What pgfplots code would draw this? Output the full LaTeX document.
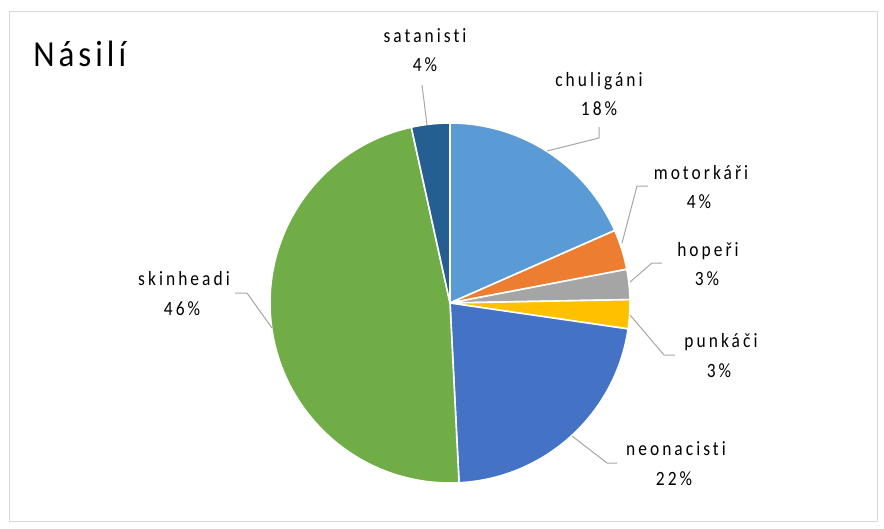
\documentclass[border=0pt]{standalone}
\usepackage{pgfplots}
\pgfplotsset{compat=1.18}
\usepackage{pgfplotstable}
\usepackage{fontspec}
\setmainfont{Carlito}
\newfontfamily\lblfont[LetterSpace=15, FakeStretch=0.86, Ligatures=NoCommon]{Carlito}
\newfontfamily\ttlfont[LetterSpace=11, FakeStretch=0.9, Ligatures=NoCommon]{Carlito}

\definecolor{cChul}{HTML}{5B9BD5}
\definecolor{cMoto}{HTML}{ED7D31}
\definecolor{cHop}{HTML}{A5A5A5}
\definecolor{cPunk}{HTML}{FFC000}
\definecolor{cNeo}{HTML}{4472C4}
\definecolor{cSkin}{HTML}{70AD47}
\definecolor{cSat}{HTML}{255E91}
\definecolor{txt}{HTML}{404040}
\definecolor{leader}{HTML}{A6A6A6}
\definecolor{frame}{HTML}{D9D9D9}

% share of each slice, clockwise from 12 o'clock
\pgfplotstableread[col sep=comma]{
name,value,col
chuligani,18.4,cChul
motorkari,3.6,cMoto
hoperi,2.7,cHop
punkaci,2.6,cPunk
neonacisti,21.9,cNeo
skinheadi,47.35,cSkin
satanisti,3.45,cSat
}\pietable

\begin{document}
\begin{tikzpicture}
\begin{axis}[
  scale only axis,
  width=663pt, height=396pt,
  xmin=0, xmax=884, ymin=0, ymax=528,
  y dir=reverse,
  hide axis,
  clip=false,
  every node/.style={text=txt},
]
\path (axis cs:0,0) rectangle (axis cs:884,528);
\draw[frame, line width=0.75pt] (axis cs:9,12) rectangle (axis cs:877,521);

% slices
\xdef\cum{0}
\pgfplotsinvokeforeach{0,...,6}{%
  \pgfplotstablegetelem{#1}{value}\of\pietable
  \pgfmathsetmacro\a{90-3.6*\cum}%
  \pgfmathsetmacro\b{90-3.6*(\cum+\pgfplotsretval)}%
  \pgfmathsetmacro\newcum{\cum+\pgfplotsretval}%
  \xdef\cum{\newcum}%
  \pgfplotstablegetelem{#1}{col}\of\pietable
  \edef\temp{\noexpand\fill[fill=\pgfplotsretval, draw=white, line width=1.2pt, line join=round]
    (axis cs:450,303) -- ++(\a:135pt) arc[start angle=\a, end angle=\b, radius=135pt] -- cycle;}%
  \temp
}

% title
\node[anchor=base west, inner sep=0pt, font=\ttlfont\fontsize{27.5}{30}\selectfont] at (axis cs:33,66) {Násilí};

% leader lines
\begin{scope}[leader, line width=0.75pt]
\draw (axis cs:427,125) -- (axis cs:422,85);
\draw (axis cs:547,151) -- (axis cs:599,138) -- (axis cs:599,127);
\draw (axis cs:622,243) -- (axis cs:637,186) -- (axis cs:648,186);
\draw (axis cs:630,282) -- (axis cs:652,263) -- (axis cs:662,263);
\draw (axis cs:630,315) -- (axis cs:664,355) -- (axis cs:675,355);
\draw (axis cs:572,436) -- (axis cs:607,463) -- (axis cs:617,463);
\draw (axis cs:272,328) -- (axis cs:247,293) -- (axis cs:235,293);
\end{scope}

% labels
\begin{scope}[every node/.append style={anchor=base, font=\lblfont\fontsize{15.2}{17}\selectfont, inner sep=0pt}]
\node at (axis cs:425,43) {satanisti};
\node at (axis cs:425,72) {4\%};
\node at (axis cs:599,86) {chuligáni};
\node at (axis cs:599,115) {18\%};
\node at (axis cs:701,179) {motorkáři};
\node at (axis cs:699,208) {4\%};
\node at (axis cs:708,256) {hopeři};
\node at (axis cs:707,285) {3\%};
\node at (axis cs:721,347) {punkáči};
\node at (axis cs:719,377) {3\%};
\node at (axis cs:676,455) {neonacisti};
\node at (axis cs:674,485) {22\%};
\node at (axis cs:184,285) {skinheadi};
\node at (axis cs:182,315) {46\%};
\end{scope}
\end{axis}
\end{tikzpicture}
\end{document}
